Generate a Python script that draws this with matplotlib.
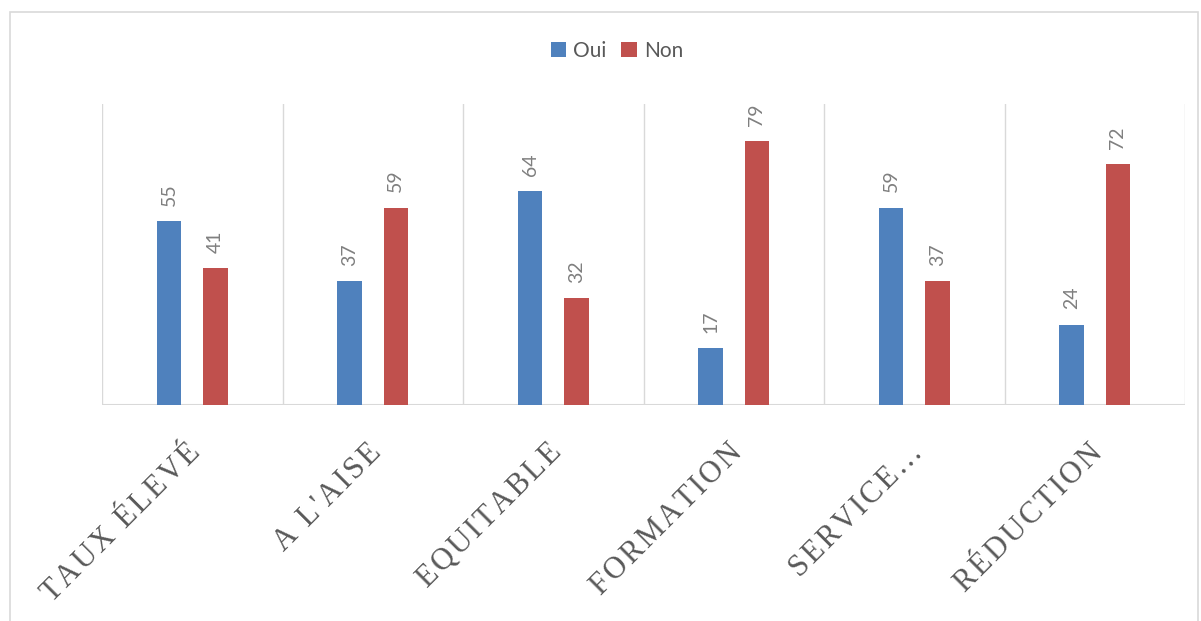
import matplotlib
matplotlib.use("Agg")
import matplotlib.pyplot as plt
import matplotlib.transforms as mtransforms
import numpy as np
from matplotlib.patches import Rectangle

categories = ["TAUX ÉLEVÉ", "A L'AISE", "EQUITABLE", "FORMATION", "SERVICE…", "RÉDUCTION"]
oui = [55, 37, 64, 17, 59, 24]
non = [41, 59, 32, 79, 37, 72]
series_names = ["Oui", "Non"]
colors = ["#4F81BD", "#C0504D"]

fig = plt.figure(figsize=(12.01, 6.21), dpi=100)
ax = fig.add_axes([102/1201, 1-405/621, (1185-102)/1201, (405-104)/621])

x = np.arange(len(categories))
w = 0.136
off = 0.128
b1 = ax.bar(x - off, oui, w, color=colors[0], label=series_names[0], zorder=3)
b2 = ax.bar(x + off, non, w, color=colors[1], label=series_names[1], zorder=3)

for bars in (b1, b2):
    for r in bars:
        h = r.get_height()
        ax.annotate(f"{h:g}", (r.get_x() + r.get_width()/2, h), xytext=(0, 11),
                    textcoords="offset points", rotation=90, ha="center", va="bottom",
                    fontsize=14, color="#7F7F7F", family=["Lato", "DejaVu Sans"])

ax.set_xlim(-0.5, len(categories) - 0.5)
ax.set_ylim(0, 90)
for b in np.arange(-0.5, len(categories), 1.0):
    ax.axvline(b, color="#D9D9D9", lw=1, zorder=1)
ax.axhline(0, color="#D9D9D9", lw=1.5, zorder=2)
for s in ax.spines.values():
    s.set_visible(False)
ax.set_yticks([])
ax.set_xticks(x)
ax.tick_params(axis="x", length=0, pad=0)

def spaced(s):
    return "\u200a".join(s)

ax.set_xticklabels([spaced(c) for c in categories], rotation=45, ha="right", va="top",
                   rotation_mode="anchor", fontsize=22, color="#595959",
                   family=["Liberation Serif", "DejaVu Serif"])
shift = mtransforms.ScaledTranslation(-6/100, -6/100, fig.dpi_scale_trans)
for lab in ax.get_xticklabels():
    lab.set_y(-0.09)
    lab.set_transform(lab.get_transform() + shift)

fig.legend(handles=[b1, b2], labels=series_names, loc="center", bbox_to_anchor=(617/1201, 1-51/621),
           ncol=2, frameon=False, handlelength=0.75, handleheight=0.75,
           handletextpad=0.35, columnspacing=0.7, labelcolor="#595959",
           prop={"family": ["Lato", "DejaVu Sans"], "size": 15})

fig.patches.append(Rectangle((10/1201, -0.01), 1188/1201, 1 - 11.5/621 + 0.01,
                             transform=fig.transFigure, fill=False, edgecolor="#D9D9D9", lw=1.2))

fig.savefig("out.png", dpi=100)
